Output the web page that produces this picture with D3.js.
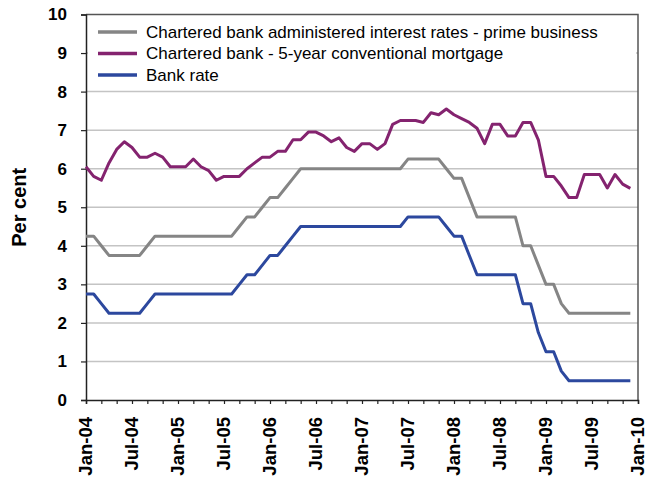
<!DOCTYPE html>
<html>
<head>
<meta charset="utf-8">
<script src="https://cdn.jsdelivr.net/npm/d3@7"></script>
<style>
  html, body { margin: 0; padding: 0; background: #fff; }
  svg { display: block; }
  text { font-family: "Liberation Sans", Arial, sans-serif; }
</style>
</head>
<body>
<svg id="chart" width="647" height="487"></svg>
<script>
// Monthly rates, January 2004 to December 2009 (per cent)
const monthCount = 72;
const tickLabels = ["Jan-04", "Jul-04", "Jan-05", "Jul-05", "Jan-06", "Jul-06",
                    "Jan-07", "Jul-07", "Jan-08", "Jul-08", "Jan-09", "Jul-09", "Jan-10"];
const yTicks = [0, 1, 2, 3, 4, 5, 6, 7, 8, 9, 10];

const primeRate = [
  4.25, 4.25, 4.00, 3.75, 3.75, 3.75, 3.75, 3.75, 4.00, 4.25, 4.25, 4.25,
  4.25, 4.25, 4.25, 4.25, 4.25, 4.25, 4.25, 4.25, 4.50, 4.75, 4.75, 5.00,
  5.25, 5.25, 5.50, 5.75, 6.00, 6.00, 6.00, 6.00, 6.00, 6.00, 6.00, 6.00,
  6.00, 6.00, 6.00, 6.00, 6.00, 6.00, 6.25, 6.25, 6.25, 6.25, 6.25, 6.00,
  5.75, 5.75, 5.25, 4.75, 4.75, 4.75, 4.75, 4.75, 4.75, 4.00, 4.00, 3.50,
  3.00, 3.00, 2.50, 2.25, 2.25, 2.25, 2.25, 2.25, 2.25, 2.25, 2.25, 2.25
];
const mortgageRate = [
  6.05, 5.80, 5.70, 6.15, 6.50, 6.70, 6.55, 6.30, 6.30, 6.40, 6.30, 6.05,
  6.05, 6.05, 6.25, 6.05, 5.95, 5.70, 5.80, 5.80, 5.80, 6.00, 6.15, 6.30,
  6.30, 6.45, 6.45, 6.75, 6.75, 6.95, 6.95, 6.85, 6.70, 6.80, 6.55, 6.45,
  6.65, 6.65, 6.50, 6.65, 7.15, 7.25, 7.25, 7.25, 7.20, 7.45, 7.40, 7.55,
  7.40, 7.30, 7.20, 7.05, 6.65, 7.15, 7.15, 6.85, 6.85, 7.20, 7.20, 6.75,
  5.80, 5.80, 5.55, 5.25, 5.25, 5.85, 5.85, 5.85, 5.50, 5.85, 5.60, 5.49
];
const bankRate = [
  2.75, 2.75, 2.50, 2.25, 2.25, 2.25, 2.25, 2.25, 2.50, 2.75, 2.75, 2.75,
  2.75, 2.75, 2.75, 2.75, 2.75, 2.75, 2.75, 2.75, 3.00, 3.25, 3.25, 3.50,
  3.75, 3.75, 4.00, 4.25, 4.50, 4.50, 4.50, 4.50, 4.50, 4.50, 4.50, 4.50,
  4.50, 4.50, 4.50, 4.50, 4.50, 4.50, 4.75, 4.75, 4.75, 4.75, 4.75, 4.50,
  4.25, 4.25, 3.75, 3.25, 3.25, 3.25, 3.25, 3.25, 3.25, 2.50, 2.50, 1.75,
  1.25, 1.25, 0.75, 0.50, 0.50, 0.50, 0.50, 0.50, 0.50, 0.50, 0.50, 0.50
];

const seriesNames = [
  "Chartered bank administered interest rates - prime business",
  "Chartered bank - 5-year conventional mortgage",
  "Bank rate"
];
const seriesColors = ["#858585", "#84236F", "#2C489E"];
const seriesData = [primeRate, mortgageRate, bankRate];

const svg = d3.select("#chart");
const plotLeft = 86, plotRight = 638, plotTop = 14.5, plotBottom = 400;

const x = d3.scaleLinear().domain([0, monthCount]).range([plotLeft, plotRight]);
const y = d3.scaleLinear().domain([0, 10]).range([plotBottom, plotTop]);

// horizontal gridlines
svg.append("g")
  .selectAll("line")
  .data(yTicks.filter(v => v > 0 && v < 10))
  .join("line")
  .attr("x1", plotLeft).attr("x2", plotRight)
  .attr("y1", d => y(d)).attr("y2", d => y(d))
  .attr("stroke", "#c4c4c4")
  .attr("stroke-width", 1.5);

// plot frame: top and right edges
svg.append("path")
  .attr("d", `M${plotLeft},${y(10)}H${plotRight}V${plotBottom}`)
  .attr("fill", "none")
  .attr("stroke", "#555")
  .attr("stroke-width", 1.5);

// y axis
const yAxis = d3.axisLeft(y).tickValues(yTicks).tickSize(5).tickPadding(14);
const gy = svg.append("g").attr("transform", `translate(${plotLeft},0)`).call(yAxis);
gy.select(".domain").attr("stroke", "#222").attr("stroke-width", 1.5);
gy.selectAll(".tick line").attr("stroke", "#222").attr("stroke-width", 1.2);
gy.selectAll("text")
  .attr("font-family", "Liberation Sans, Arial, sans-serif")
  .attr("font-size", 17).attr("font-weight", "bold").attr("fill", "#000");

// x axis: ticks every two months, labels every six
const xAxis = d3.axisBottom(x)
  .tickValues(d3.range(0, monthCount + 1, 2))
  .tickSize(4)
  .tickFormat(() => "");
const gx = svg.append("g").attr("transform", `translate(0,${plotBottom})`).call(xAxis);
gx.select(".domain").attr("stroke", "#222").attr("stroke-width", 1.5);
gx.selectAll(".tick line").attr("stroke", "#222").attr("stroke-width", 1.2);

svg.append("g")
  .selectAll("text")
  .data(tickLabels)
  .join("text")
  .attr("transform", (d, i) => `translate(${x(i * 6)},${plotBottom + 17}) rotate(-90)`)
  .attr("text-anchor", "end")
  .attr("dy", "0.35em")
  .attr("font-size", 18.5)
  .attr("font-weight", "bold")
  .text(d => d);

// y axis title
svg.append("text")
  .attr("transform", `translate(19,${(plotTop + plotBottom) / 2}) rotate(-90)`)
  .attr("text-anchor", "middle")
  .attr("dy", "0.35em")
  .attr("font-size", 20)
  .attr("font-weight", "bold")
  .text("Per cent");

// series lines
const line = d3.line()
  .x((d, i) => x(i))
  .y(d => y(d));

svg.append("g")
  .selectAll("path")
  .data(seriesData)
  .join("path")
  .attr("d", d => line(d))
  .attr("fill", "none")
  .attr("stroke", (d, i) => seriesColors[i])
  .attr("stroke-width", 3)
  .attr("stroke-linejoin", "round");

// legend
const legend = svg.append("g");
legend.append("rect")
  .attr("x", plotLeft + 2).attr("y", 18)
  .attr("width", plotRight - plotLeft - 4).attr("height", 68)
  .attr("fill", "#fff");
const entries = legend.selectAll("g")
  .data(seriesNames)
  .join("g")
  .attr("transform", (d, i) => `translate(0,${32 + i * 21.5})`);
entries.append("line")
  .attr("x1", 98).attr("x2", 137)
  .attr("stroke", (d, i) => seriesColors[i])
  .attr("stroke-width", 3.5);
entries.append("text")
  .attr("x", 146)
  .attr("dy", "0.35em")
  .attr("font-size", 17)
  .attr("fill", "#000")
  .text(d => d);
</script>
</body>
</html>
